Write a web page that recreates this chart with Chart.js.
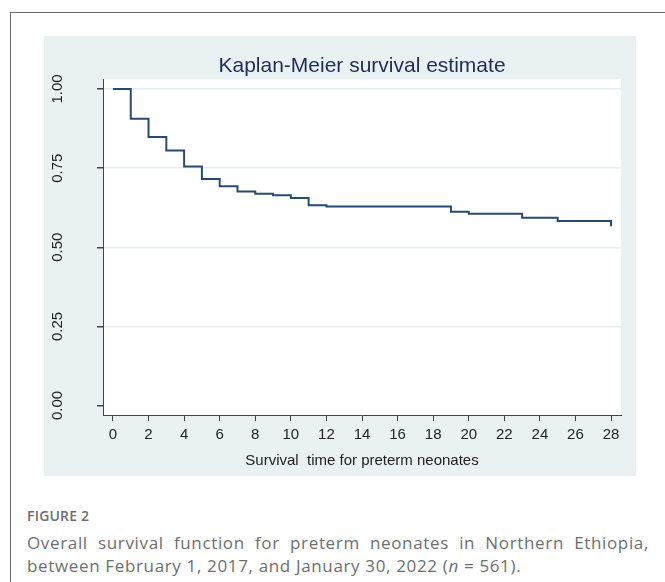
<!DOCTYPE html>
<html>
<head>
<meta charset="utf-8">
<script src="https://cdn.jsdelivr.net/npm/chart.js@4"></script>
<style>
  html, body { margin: 0; padding: 0; background: #fff; }
  body { width: 665px; height: 582px; position: relative; overflow: hidden; }
  .frame {
    position: absolute; left: 10px; top: 12px; right: 0; bottom: 0;
    border-left: 1.5px solid #6a6a6a; border-top: 1.5px solid #6a6a6a;
  }
  .box {
    position: absolute; left: 44px; top: 36px; width: 592px; height: 440px;
    background: #eaf1f3;
  }
  .fig {
    position: absolute; left: 27px; top: 506px;
    font-family: "Open Sans", sans-serif; font-size: 14px; font-weight: 600;
    letter-spacing: 0.2px; color: #6e6e6e;
  }
  .cap {
    position: absolute; left: 27px; top: 531px; width: 622px;
    font-family: "Open Sans", sans-serif; font-size: 17px; line-height: 23px;
    letter-spacing: 0.65px;
    color: #6e6e6e; text-align: justify; text-align-last: left;
  }
</style>
</head>
<body>
<div class="frame"></div>
<div class="box"><canvas id="km" width="592" height="440"></canvas></div>
<div class="fig">FIGURE 2</div>
<div class="cap">Overall survival function for preterm neonates in Northern Ethiopia, between February 1, 2017, and January 30, 2022 (<i>n</i> = 561).</div>
<script>
// survival time in days and Kaplan-Meier estimate at each step
const days = [0, 1, 2, 3, 4, 5, 6, 7, 8, 9, 10, 11, 12, 19, 20, 23, 25, 28];
const survival = [1.000, 0.906, 0.848, 0.806, 0.755, 0.716, 0.693, 0.676, 0.669, 0.664,
                  0.656, 0.633, 0.629, 0.612, 0.606, 0.593, 0.583, 0.566];
const xTicks = [0, 2, 4, 6, 8, 10, 12, 14, 16, 18, 20, 22, 24, 26, 28];
const yTicks = [0, 0.25, 0.5, 0.75, 1];

const axisFont = { family: "Liberation Sans", size: 15 };

new Chart(document.getElementById("km"), {
    type: "line",
    data: {
        datasets: [{
            data: days.map((d, i) => ({ x: d, y: survival[i] })),
            borderColor: "#284a72",
            borderWidth: 2,
            stepped: "before",
            pointRadius: 0,
            fill: false
        }]
    },
    options: {
        responsive: false,
        animation: false,
        layout: { padding: { right: 15, left: 0 } },
        plugins: {
            legend: { display: false },
            tooltip: { enabled: false },
            title: {
                display: true,
                fullSize: false,
                text: "Kaplan-Meier survival estimate",
                color: "#1f2c55",
                font: { family: "Liberation Sans", size: 21, weight: "normal", lineHeight: 1.2 },
                padding: { top: 18, bottom: 0 }
            }
        },
        scales: {
            x: {
                type: "linear",
                min: -0.56,
                max: 28.56,
                afterBuildTicks: (s) => { s.ticks = xTicks.map(v => ({ value: v })); },
                afterFit: (s) => { s.height = 61; },
                grid: { drawOnChartArea: false, drawTicks: true, tickLength: 6, tickColor: "#444" },
                border: { color: "#444", width: 1 },
                ticks: { color: "#222", font: axisFont, padding: 5, maxRotation: 0 },
                title: {
                    display: true,
                    text: "Survival  time for preterm neonates",
                    color: "#222",
                    font: { family: "Liberation Sans", size: 15 },
                    padding: { top: 2, bottom: 6 }
                }
            },
            y: {
                min: -0.03,
                max: 1.031,
                afterBuildTicks: (s) => { s.ticks = yTicks.map(v => ({ value: v })); },
                afterFit: (s) => {
                    s.width = 59;
                    s.paddingTop = 0;
                    s.paddingBottom = 0;
                },
                grid: {
                    color: (c) => c.tick && c.tick.value === 0 ? "rgba(0,0,0,0)" : "#e4edf0",
                    lineWidth: 1.5,
                    tickColor: "#444",
                    tickLength: 6
                },
                border: { color: "#444", width: 1 },
                ticks: {
                    color: "#222",
                    font: axisFont,
                    minRotation: 90,
                    maxRotation: 90,
                    crossAlign: "center",
                    padding: 25,
                    callback: (v) => v.toFixed(2)
                }
            }
        }
    },
    plugins: [{
        id: "plotBg",
        beforeDraw(chart) {
            const a = chart.chartArea, ctx = chart.ctx;
            ctx.save();
            ctx.fillStyle = "#ffffff";
            ctx.fillRect(a.left, a.top, a.right - a.left, a.bottom - a.top);
            ctx.restore();
        }
    }]
});
</script>
</body>
</html>
